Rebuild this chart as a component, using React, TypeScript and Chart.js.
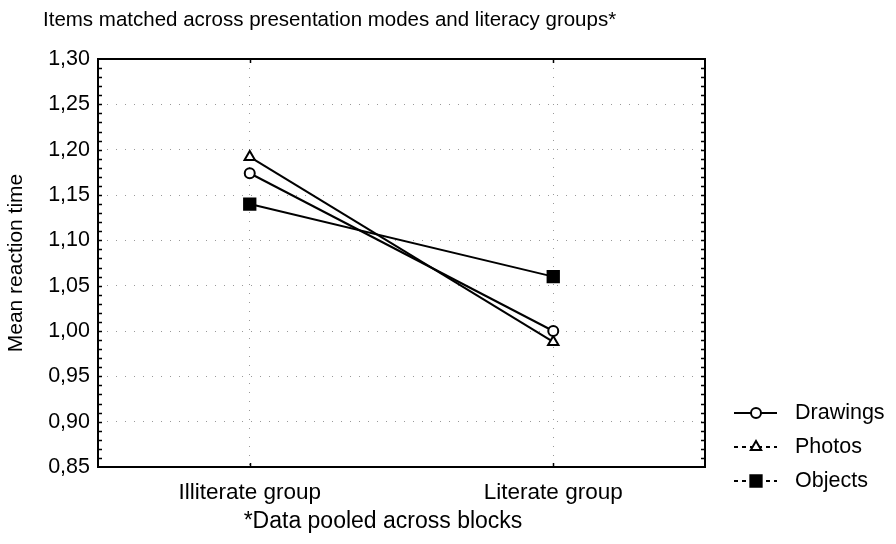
import React, { useEffect, useRef } from "react";
import { Chart, registerables } from "chart.js";
Chart.register(...registerables);

const titleText = "Items matched across presentation modes and literacy groups*";
const xAxisTitle = "*Data pooled across blocks";
const yAxisTitle = "Mean reaction time";
const categories = ["Illiterate group", "Literate group"];
const seriesNames = ["Drawings", "Photos", "Objects"];
const drawings = [1.174, 1.0];
const photos = [1.192, 0.988];
const objects = [1.14, 1.06];
const yMin = 0.85;
const yMax = 1.3;
const yStep = 0.05;
const yMinorStep = 0.01;

const FONT = "'Liberation Sans', Arial, sans-serif";

const legendStyles = [
  { dash: [] as number[], pointStyle: "circle", fill: "#fff", r: 5 },
  { dash: [4, 4], pointStyle: "triangle", fill: "#fff", r: 6 },
  { dash: [4, 4], pointStyle: "rect", fill: "#000", r: 8 },
];

function drawMarker(ctx: CanvasRenderingContext2D, style: string, x: number, y: number, r: number, fill: string) {
  ctx.save();
  ctx.fillStyle = fill;
  ctx.strokeStyle = "#000";
  ctx.lineWidth = 2;
  ctx.beginPath();
  if (style === "circle") {
    ctx.arc(x, y, r, 0, Math.PI * 2);
  } else if (style === "triangle") {
    ctx.moveTo(x, y - r);
    ctx.lineTo(x + r * 0.866, y + r * 0.5);
    ctx.lineTo(x - r * 0.866, y + r * 0.5);
    ctx.closePath();
  } else {
    const s = r * Math.SQRT1_2;
    ctx.rect(x - s, y - s, 2 * s, 2 * s);
  }
  ctx.fill();
  ctx.stroke();
  ctx.restore();
}

const framePlugin = {
  id: "frame",
  beforeDatasetsDraw(chart: any) {
    const { ctx, chartArea: a, scales } = chart;
    ctx.save();
    ctx.strokeStyle = "#000";
    ctx.lineWidth = 2;
    ctx.strokeRect(a.left, a.top, a.right - a.left, a.bottom - a.top);
    ctx.lineWidth = 1.5;
    const y = scales.y;
    const n = Math.round((yMax - yMin) / yMinorStep);
    for (let i = 1; i < n; i++) {
      const py = Math.round(y.getPixelForValue(yMin + i * yMinorStep)) + 0.5;
      ctx.beginPath();
      ctx.moveTo(a.left, py);
      ctx.lineTo(a.left + 4, py);
      ctx.moveTo(a.right, py);
      ctx.lineTo(a.right - 4, py);
      ctx.stroke();
    }
    const x = scales.x;
    categories.forEach((_, i) => {
      const px = Math.round(x.getPixelForValue(i)) + 0.5;
      ctx.beginPath();
      ctx.moveTo(px, a.bottom);
      ctx.lineTo(px, a.bottom - 4);
      ctx.moveTo(px, a.top);
      ctx.lineTo(px, a.top + 4);
      ctx.stroke();
    });
    ctx.restore();
  },
  afterDraw(chart: any) {
    const { ctx } = chart;
    ctx.save();
    ctx.fillStyle = "#000";
    ctx.font = `20.5px ${FONT}`;
    ctx.textAlign = "left";
    ctx.textBaseline = "middle";
    ctx.fillText(titleText, 43, 20);
    ctx.textAlign = "center";
    ctx.font = `23px ${FONT}`;
    ctx.fillText(xAxisTitle, 383, 522);
    ctx.textAlign = "left";
    const rows = [413, 447, 481];
    seriesNames.forEach((name, i) => {
      const st = legendStyles[i];
      const yy = rows[i];
      ctx.strokeStyle = "#000";
      ctx.lineWidth = 2;
      ctx.setLineDash(st.dash);
      ctx.beginPath();
      ctx.moveTo(734, yy);
      ctx.lineTo(777, yy);
      ctx.stroke();
      ctx.setLineDash([]);
      drawMarker(ctx, st.pointStyle, 756, yy, st.r, st.fill);
      ctx.fillStyle = "#000";
      ctx.font = `21.5px ${FONT}`;
      ctx.fillText(name, 795, yy);
    });
    ctx.restore();
  },
};

export default function App() {
  const ref = useRef<HTMLCanvasElement>(null);
  useEffect(() => {
    if (!ref.current) return;
    const mk = (label: string, data: number[], i: number) => ({
      label,
      data,
      borderColor: "#000",
      borderWidth: 2,
      pointStyle: legendStyles[i].pointStyle,
      pointRadius: legendStyles[i].r,
      pointBorderWidth: 2,
      pointBackgroundColor: legendStyles[i].fill,
      pointBorderColor: "#000",
      tension: 0,
      fill: false,
    });
    const chart = new Chart(ref.current, {
      type: "line",
      data: {
        labels: categories,
        datasets: [mk(seriesNames[0], drawings, 0), mk(seriesNames[1], photos, 1), mk(seriesNames[2], objects, 2)],
      },
      options: {
        animation: false,
        responsive: false,
        layout: { padding: { top: 59, right: 191, left: 0, bottom: 0 } },
        plugins: { legend: { display: false }, tooltip: { enabled: false }, title: { display: false } },
        scales: {
          x: {
            type: "category",
            offset: true,
            border: { display: false, dash: [1, 8] },
            grid: { color: "#999", lineWidth: 1, drawTicks: false },
            ticks: { color: "#000", font: { family: FONT, size: 22.5 }, padding: 12 },
            title: { display: false, text: xAxisTitle },
            afterFit: (s: any) => {
              s.height = 77;
            },
          },
          y: {
            min: yMin,
            max: yMax,
            border: { display: false, dash: [1, 8] },
            grid: { color: "#999", lineWidth: 1, drawTicks: false },
            ticks: {
              stepSize: yStep,
              color: "#000",
              font: { family: FONT, size: 21.5 },
              padding: 8,
              callback: (v: any) => Number(v).toFixed(2).replace(".", ","),
            },
            title: { display: true, text: yAxisTitle, color: "#000", font: { family: FONT, size: 21 }, padding: { top: 4, bottom: 0 } },
            afterFit: (s: any) => {
              s.width = 98;
            },
          },
        },
      },
      plugins: [framePlugin],
    } as any);
    return () => chart.destroy();
  }, []);
  return (
    <div style={{ position: "absolute", left: 0, top: 0, width: 896, height: 544, background: "#fff" }}>
      <canvas ref={ref} width={896} height={544} />
    </div>
  );
}
